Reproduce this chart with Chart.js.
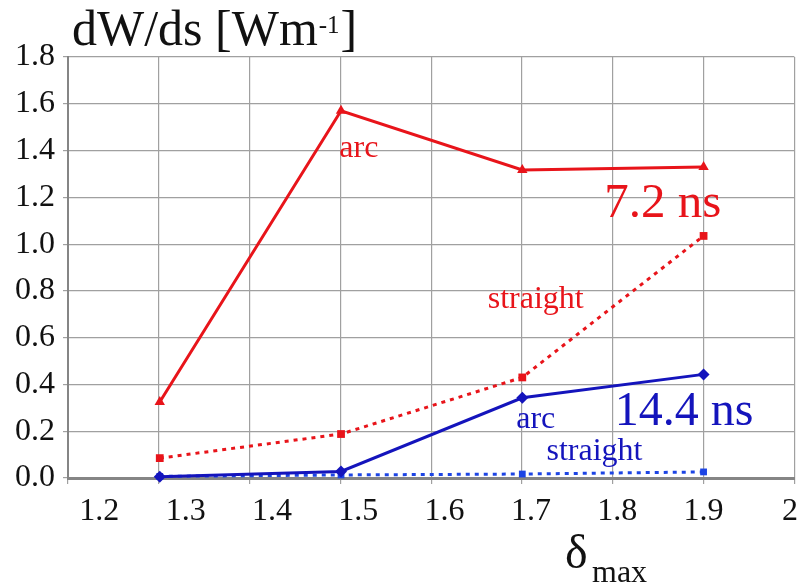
<!DOCTYPE html>
<html>
<head>
<meta charset="utf-8">
<script src="https://cdn.jsdelivr.net/npm/chart.js@4"></script>
<style>
  html, body { margin: 0; padding: 0; background: #fff; }
  #wrap { width: 812px; height: 586px; }
</style>
</head>
<body>
<div id="wrap"><canvas id="c" width="812" height="586"></canvas></div>
<script>
// delta_max values where dW/ds was evaluated
const DELTA_MAX = [1.27, 1.48, 1.69, 1.90];

// 7.2 ns pulse
const ARC_72      = [0.325, 1.570, 1.317, 1.330];
const STRAIGHT_72 = [0.085, 0.188, 0.430, 1.035];
// 14.4 ns pulse
const ARC_144      = [0.005, 0.028, 0.343, 0.443];
const STRAIGHT_144 = [0.007, 0.013, 0.017, 0.026];

const X_TICKS  = [1.2, 1.3, 1.4, 1.5, 1.6, 1.7, 1.8, 1.9, 2.0];
const X_LABELS = ['1.2', '1.3', '1.4', '1.5', '1.6', '1.7', '1.8', '1.9', '2'];

const FONT  = "'Liberation Serif', 'Times New Roman', serif";
const RED   = '#e8141a';
const BLUE  = '#1414bc';
const BLUE2 = '#1c44e4';
const GRID  = '#a0a0a0';
const AXIS  = '#858585';

const pts = ys => ys.map((y, i) => ({ x: DELTA_MAX[i], y }));

function series(label, ys, color, style, radius, dash) {
  return {
    label,
    data: pts(ys),
    borderColor: color,
    backgroundColor: color,
    borderWidth: 3,
    borderDash: dash || [],
    pointStyle: style,
    pointRadius: radius,
    pointBorderWidth: 0,
    tension: 0,
    clip: false,
  };
}

// text labels placed in axis units: [text, colour, size, x, y(baseline)]
const NOTES = [
  ['arc',      RED,  32, 1.478, 1.372],
  ['7.2 ns',   RED,  49, 1.785, 1.116],
  ['straight', RED,  32, 1.650, 0.727],
  ['arc',      BLUE, 32, 1.683, 0.214],
  ['14.4 ns',  BLUE, 48, 1.797, 0.227],
  ['straight', BLUE, 32, 1.718, 0.077],
];

const textLayer = {
  id: 'textLayer',
  afterDraw(chart) {
    const { ctx, scales: { x, y } } = chart;
    ctx.save();
    ctx.textBaseline = 'alphabetic';
    ctx.textAlign = 'left';

    NOTES.forEach(([t, c, s, vx, vy]) => {
      ctx.fillStyle = c;
      ctx.font = `${s}px ${FONT}`;
      ctx.fillText(t, x.getPixelForValue(vx), y.getPixelForValue(vy));
    });

    // y axis title with superscript
    ctx.fillStyle = '#111';
    let px = 72;
    ctx.font = `50px ${FONT}`;
    ctx.fillText('dW/ds [Wm', px, 45);
    px += ctx.measureText('dW/ds [Wm').width + 1;
    ctx.font = `25px ${FONT}`;
    ctx.fillText('-1', px, 33);
    px += ctx.measureText('-1').width + 1;
    ctx.font = `50px ${FONT}`;
    ctx.fillText(']', px, 45);

    // x axis title
    ctx.font = `48px ${FONT}`;
    ctx.fillText('δ', 565, 568);
    ctx.font = `32px ${FONT}`;
    ctx.fillText('max', 592, 582);
    ctx.restore();
  },
};

new Chart(document.getElementById('c'), {
  type: 'scatter',
  data: {
    datasets: [
      series('arc 7.2 ns',       ARC_72,       RED,   'triangle', 6),
      series('straight 7.2 ns',  STRAIGHT_72,  RED,   'rect',     5.5, [4, 5]),
      series('arc 14.4 ns',      ARC_144,      BLUE,  'rectRot',  6),
      series('straight 14.4 ns', STRAIGHT_144, BLUE2, 'rect',     4.8, [4, 5]),
    ],
  },
  options: {
    responsive: false,
    animation: false,
    showLine: true,
    layout: { padding: { top: 57, right: 8, left: 0, bottom: 0 } },
    plugins: { legend: { display: false }, tooltip: { enabled: false } },
    scales: {
      x: {
        type: 'linear',
        position: 'bottom',
        weight: 1,
        min: 1.1637,
        max: 2.0052,
        afterBuildTicks: s => { s.ticks = X_TICKS.map(v => ({ value: v })); },
        afterFit: s => { s.height = 108; },
        ticks: {
          autoSkip: false,
          maxRotation: 0,
          padding: 14,
          color: '#111',
          font: { family: FONT, size: 32 },
          callback: v => X_LABELS[X_TICKS.findIndex(t => Math.abs(t - v) < 1e-6)],
        },
        grid: { display: false, drawTicks: false },
        border: { display: true, color: AXIS, width: 3 },
      },
      // vertical grid: eight equal columns across the plot
      xg: {
        type: 'linear',
        position: 'bottom',
        weight: 0,
        min: 0,
        max: 8,
        afterFit: s => { s.height = 0; },
        ticks: { display: false, stepSize: 1 },
        grid: { color: GRID, lineWidth: 1.2, tickLength: 6 },
        border: { display: false },
      },
      y: {
        min: 0,
        max: 1.8,
        afterFit: s => { s.width = 68; },
        ticks: {
          stepSize: 0.2,
          padding: 8,
          color: '#111',
          font: { family: FONT, size: 32 },
          callback: v => v.toFixed(1),
        },
        grid: { color: GRID, lineWidth: 1.2, tickLength: 5 },
        border: { display: true, color: AXIS, width: 2 },
      },
    },
  },
  plugins: [textLayer],
});
</script>
</body>
</html>
